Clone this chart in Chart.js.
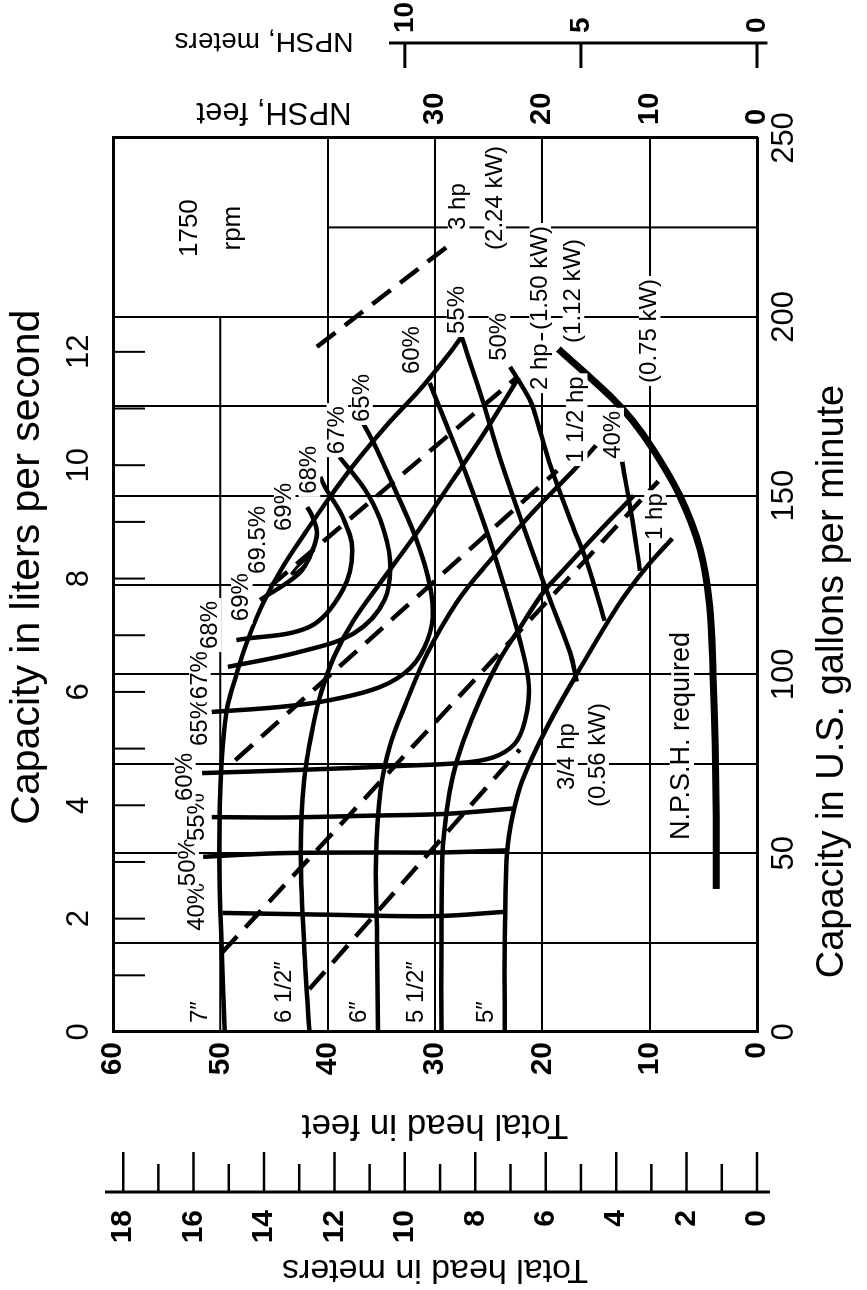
<!DOCTYPE html>
<html>
<head>
<meta charset="utf-8">
<title>Pump performance 1750 rpm</title>
<script src="https://cdn.jsdelivr.net/npm/chart.js@4.4.1/dist/chart.umd.min.js"></script>
<style>
  html, body { margin: 0; padding: 0; background: #fff; }
  body { width: 867px; height: 1290px; overflow: hidden; position: relative; }
  /* the chart is drawn lying down, then turned a quarter turn left */
  #wrap { position: absolute; left: 0; top: 0; width: 1290px; height: 867px;
          transform-origin: 0 0; transform: translateY(1290px) rotate(-90deg); }
</style>
</head>
<body>
<div id="wrap"><canvas id="pump" width="1290" height="867"></canvas></div>
<script>
const FONT = '"Liberation Sans", Arial, Helvetica, sans-serif';
const GPM_PER_LS = 15.850;
const FT_PER_M = 3.28084;

// [capacity gpm, head ft]
const dia7  = [[0,49.6],[25,49.9],[50,50.1],[75,49.9],[90,49.4],[100,48.5],[110,47.4],[120,46.0],[130,44.2],[140,42.0],[150,39.7],[160,37.2],[170,34.4],[180,31.3],[190,28.6],[195,27.4]];
const dia65 = [[0,41.7],[25,42.2],[50,42.5],[70,42.2],[85,41.4],[95,40.6],[105,39.4],[115,37.6],[126,35.0],[140,31.6],[155,28.2],[168,25.3],[183,22.2]];
const dia6  = [[0,35.3],[26,35.4],[48,35.5],[67,35.1],[80,34.2],[92,32.7],[106,30.7],[120,28.0],[130,25.4],[145,21.0],[158,16.8],[164,15.0]];
const dia55 = [[0,29.4],[25,29.4],[50,29.3],[62,28.9],[72,28.3],[81,27.4],[93,25.8],[104,24.0],[113,22.1],[123,19.9],[128,18.4],[140,14.7],[150,11.5]];
const dia5  = [[0,23.5],[25,23.5],[50,23.3],[60,22.8],[70,21.9],[85,19.6],[100,16.8],[119,13.0],[130,10.3],[138,7.9]];

// efficiency contours
const eff40a = [[33.3,49.8],[32.8,40],[32.4,30],[33.6,23.5]];
const eff40b = [[160,12.6],[144.6,11.7],[129,10.9]];
const eff50a = [[49,51.6],[50,44.5],[50.2,35],[50.2,29.5],[50.8,23.3]];
const eff50b = [[186,23.0],[177,21.2],[171,20.5],[158,19.2],[141,17.1],[131,15.8],[115,14.2]];
const eff55a = [[60.1,50.8],[60,44],[60.5,36],[61,29],[62.5,22.7]];
const eff55b = [[195,27.6],[177,25.6],[161,24.0],[140,21.6],[121,19.3],[106,17.4],[98,16.8]];
const eff60  = [[72.4,51.7],[73.3,42.6],[74.4,33.3],[75.5,26.7],[77.5,24.0],[81.7,22.3],[90,21.4],[98.4,21.3],[109.6,22.1],[122.2,23.3],[137.6,24.9],[155.2,27.0],[171.1,29.1],[181.5,30.5]];
const eff65  = [[89.5,50.8],[90.9,44.45],[92.8,39.8],[96.5,35.1],[101.8,32.3],[109.6,30.7],[118,30.2],[127.8,30.7],[139,31.9],[148.8,33.3],[162.8,35.4],[170.3,36.7]];
const eff67  = [[102.1,49.3],[106.3,42.6],[111.6,37.5],[120.8,34.7],[132,34.2],[143.2,35.1],[151.6,36.5],[160.8,38.9]];
const eff68  = [[109.6,48.5],[113.3,41.7],[123.6,38.6],[134.8,37.7],[144,38.6],[151.6,40.1],[155.2,40.7]];
const eff69  = [[120.8,46.3],[128.4,42.6],[134.8,41.4],[139.5,41.0],[144,41.4],[146.8,41.9]];
const eff695 = [[128,43.4],[130.5,42.7],[133,41.6],[131,42.0],[128.5,42.9],[128,43.4]];

// brake horsepower lines
const hp3   = [[191.6,41.0],[220,28.7]];
const hp2   = [[124.5,45.4],[183,22.4]];
const hp15  = [[76,48.6],[157,18.6]];
const hp1   = [[22,49.9],[154,9.2]];
const hp075 = [[12,41.7],[79,22.1]];

// NPSH required, ft
const npshReq = [[40,3.8],[60,3.8],[80,3.9],[100,4.1],[119,4.4],[135,5.3],[150,7.2],[163,9.7],[171,11.6],[177,13.4],[191,18.5]];

// grid pieces that stop short of the frame
const grid50ft = [[0,50],[200,50]];
const grid225  = [[225,40],[225,0]];

const lsLabels     = [0,2,4,6,8,10,12];
const lsTicks      = [1,2,3,4,5,6,7,8,9,10,11,12];
const meterLabels  = [0,2,4,6,8,10,12,14,16,18];
const meterTicks   = [0,1,2,3,4,5,6,7,8,9,10,11,12,13,14,15,16,17,18];
const npshFtLabels = [0,10,20,30];
const npshMLabels  = [0,5,10];

// text in the plot: text, gpm, head, size, align
const notes = [
  ['1750', 224.8, 52.8, 26, 'center'], ['rpm', 224.8, 48.8, 26, 'center'],
  ['7\u2033', 2.5, 51.9, 24, 'left'], ['6 1/2\u2033', 2.5, 44.0, 24, 'left'], ['6\u2033', 2.5, 37.0, 24, 'left'],
  ['5 1/2\u2033', 2.5, 31.7, 24, 'left'], ['5\u2033', 2.5, 25.2, 24, 'left'],
  ['40%', 35.0, 52.1, 24, 'center'], ['50%', 47.5, 53.0, 24, 'center'], ['55%', 60.1, 52.1, 24, 'center'],
  ['60%', 71.3, 53.3, 24, 'center'], ['65%', 86.7, 51.9, 24, 'center'], ['67%', 99.8, 51.9, 24, 'center'],
  ['68%', 113.8, 50.9, 24, 'center'], ['69%', 121.6, 48.0, 24, 'center'], ['69.5%', 137.6, 46.5, 24, 'center'],
  ['69%', 146.8, 44.0, 24, 'center'], ['68%', 157.2, 41.7, 24, 'center'], ['67%', 168.3, 39.1, 24, 'center'],
  ['65%', 177.3, 36.8, 24, 'center'], ['60%', 190.7, 32.1, 24, 'center'], ['55%', 201.9, 27.9, 24, 'center'],
  ['50%', 194.4, 24.0, 24, 'center'], ['40%', 167.0, 13.4, 24, 'center'],
  ['3 hp', 224.3, 27.8, 24, 'left'], ['(2.24 kW)', 218.7, 24.4, 24, 'left'],
  ['2 hp', 179.5, 20.2, 24, 'left'], ['(1.50 kW)', 196.3, 20.2, 24, 'left'],
  ['1 1/2 hp', 159.1, 16.8, 24, 'left'], ['(1.12 kW)', 192.7, 17.1, 24, 'left'],
  ['1 hp', 137.6, 9.5, 24, 'left'], ['(0.75 kW)', 181.5, 10.0, 24, 'left'],
  ['3/4 hp', 67.7, 17.7, 24, 'left'], ['(0.56 kW)', 62.9, 14.8, 24, 'left'],
  ['N.P.S.H. required', 53.7, 7.0, 27, 'left']
];

function line(arr, width, dash) {
  return {
    data: arr.map(p => ({ x: p[0], y: p[1] })),
    borderColor: '#000',
    borderWidth: width,
    borderDash: dash || [],
    pointRadius: 0,
    tension: 0.35,
    fill: false
  };
}

function stroke(ctx, x1, y1, x2, y2) {
  ctx.beginPath();
  ctx.moveTo(x1, y1);
  ctx.lineTo(x2, y2);
  ctx.stroke();
}

function turnedText(ctx, t, px, py, angle) {
  ctx.save();
  ctx.translate(px, py);
  ctx.rotate(angle);
  ctx.fillText(t, 0, 0);
  ctx.restore();
}

const decor = {
  id: 'decor',
  afterDatasetsDraw(chart) {
    const { ctx, scales } = chart;
    ctx.save();
    ctx.textBaseline = 'middle';
    notes.forEach(n => {
      const [t, q, h, size, align] = n;
      const px = scales.x.getPixelForValue(q);
      const py = scales.y.getPixelForValue(h);
      ctx.font = size + 'px ' + FONT;
      const w = ctx.measureText(t).width;
      const left = align === 'left' ? px : px - w / 2;
      ctx.fillStyle = '#fff';
      ctx.fillRect(left - 3, py - size * 0.45, w + 6, size * 0.9);
      ctx.fillStyle = '#000';
      ctx.textAlign = align;
      ctx.fillText(t, px, py);
    });
    ctx.restore();
  },
  afterDraw(chart) {
    const { ctx, chartArea: area, scales } = chart;
    ctx.save();
    ctx.strokeStyle = '#000';
    ctx.fillStyle = '#000';

    // litres per second ticks, pointing into the plot
    ctx.lineWidth = 2;
    lsTicks.forEach(v => {
      const px = scales.x.getPixelForValue(v * GPM_PER_LS);
      stroke(ctx, px, area.top, px, area.top + 32);
    });

    // metre scale for total head
    const m = scales.yM;
    const mx = m.right;
    ctx.lineWidth = 3;
    stroke(ctx, mx, area.top - 8, mx, area.bottom + 13);
    ctx.lineWidth = 2.5;
    meterTicks.forEach(v => {
      const py = m.getPixelForValue(v);
      stroke(ctx, mx, py, mx + (v % 2 ? 28 : 40), py);
    });

    // metre scale for NPSH, ticks hang towards the plot
    const n = scales.npshM;
    const nx = n.left + 25;
    ctx.lineWidth = 3;
    stroke(ctx, nx, n.getPixelForValue(10.45), nx, n.getPixelForValue(-0.3));
    npshMLabels.forEach(v => {
      const py = n.getPixelForValue(v);
      stroke(ctx, nx, py, nx - 25, py);
    });

    ctx.textAlign = 'center';
    ctx.textBaseline = 'middle';
    // capacity titles
    ctx.font = '38px ' + FONT;
    ctx.fillText('Capacity in U.S. gallons per minute', scales.x.getPixelForValue(98), area.bottom + 76);
    ctx.font = '41px ' + FONT;
    ctx.fillText('Capacity in liters per second', scales.x.getPixelForValue(130), 28);
    // NPSH titles run the other way
    ctx.font = '31px ' + FONT;
    turnedText(ctx, 'NPSH, feet', scales.npshFt.left + 26, scales.npshFt.getPixelForValue(45), -Math.PI / 2);
    ctx.font = '28px ' + FONT;
    turnedText(ctx, 'NPSH, meters', n.left + 27, n.getPixelForValue(14), -Math.PI / 2);
    ctx.restore();
  }
};

const black = '#000';
const clear = 'rgba(0,0,0,0)';
const W = 4.5;
const DASH = [23, 12];

new Chart(document.getElementById('pump'), {
  type: 'line',
  data: {
    datasets: [
      line(grid50ft, 2), line(grid225, 2),
      line(dia7, W), line(dia65, W), line(dia6, W), line(dia55, W), line(dia5, W),
      line(eff40a, W), line(eff40b, W), line(eff50a, W), line(eff50b, W),
      line(eff55a, W), line(eff55b, W), line(eff60, W), line(eff65, W),
      line(eff67, W), line(eff68, W), line(eff69, W), line(eff695, 3),
      line(hp3, W, DASH), line(hp2, W, DASH), line(hp15, W, DASH),
      line(hp1, W, DASH), line(hp075, W, DASH),
      line(npshReq, 7)
    ]
  },
  options: {
    responsive: false,
    animation: false,
    devicePixelRatio: 1,
    events: [],
    layout: { padding: 0 },
    plugins: { legend: { display: false }, tooltip: { enabled: false } },
    scales: {
      x: {
        type: 'linear', position: 'bottom', min: 0, max: 250,
        afterFit: s => { s.height = 110; },
        ticks: { stepSize: 25, autoSkip: false, maxRotation: 0, padding: 9, color: black,
                 font: { family: FONT, size: 31 }, callback: v => (v % 50 === 0 ? v : '') },
        grid: { color: c => (c.tick && c.tick.value === 225 ? clear : black), lineWidth: 2, drawTicks: false },
        border: { color: black, width: 3 }
      },
      xLs: {
        type: 'linear', position: 'top', min: 0, max: 250 / GPM_PER_LS,
        afterFit: s => { s.height = 113; },
        afterBuildTicks: s => { s.ticks = lsLabels.map(v => ({ value: v })); },
        ticks: { autoSkip: false, maxRotation: 0, padding: 15, color: black, font: { family: FONT, size: 31 } },
        grid: { display: false, drawTicks: false },
        border: { color: black, width: 3 }
      },
      y: {
        type: 'linear', position: 'left', min: 0, max: 60, weight: 0,
        afterFit: s => { s.width = 160; },
        ticks: { stepSize: 10, padding: 10, color: black, font: { family: FONT, size: 30, weight: 'bold' } },
        grid: { color: c => (c.tick && c.tick.value === 50 ? clear : black), lineWidth: 2, drawTicks: false },
        border: { color: black, width: 3 },
        title: { display: true, text: 'Total head in feet', color: black,
                 font: { family: FONT, size: 35 }, padding: { top: 46, bottom: 0 } }
      },
      yM: {
        type: 'linear', position: 'left', min: 0, max: 60 / FT_PER_M, weight: 1,
        afterFit: s => { s.width = 98; },
        afterBuildTicks: s => { s.ticks = meterLabels.map(v => ({ value: v })); },
        ticks: { padding: 18, color: black, font: { family: FONT, size: 30, weight: 'bold' } },
        grid: { display: false, drawTicks: false },
        border: { display: false },
        title: { display: true, text: 'Total head in meters', color: black,
                 font: { family: FONT, size: 34 }, padding: { top: 0, bottom: 0 } }
      },
      npshFt: {
        type: 'linear', position: 'right', min: 0, max: 60, weight: 0,
        afterFit: s => { s.width = 70; },
        afterBuildTicks: s => { s.ticks = npshFtLabels.map(v => ({ value: v })); },
        ticks: { padding: 13, color: black, font: { family: FONT, size: 29, weight: 'bold' } },
        grid: { display: false, drawTicks: false },
        border: { color: black, width: 3 }
      },
      npshM: {
        type: 'linear', position: 'right', min: 0, max: 60 / FT_PER_M, weight: 1,
        afterFit: s => { s.width = 68; },
        afterBuildTicks: s => { s.ticks = npshMLabels.map(v => ({ value: v })); },
        ticks: { padding: 35, color: black, font: { family: FONT, size: 28, weight: 'bold' } },
        grid: { display: false, drawTicks: false },
        border: { display: false }
      }
    }
  },
  plugins: [decor]
});
</script>
</body>
</html>
